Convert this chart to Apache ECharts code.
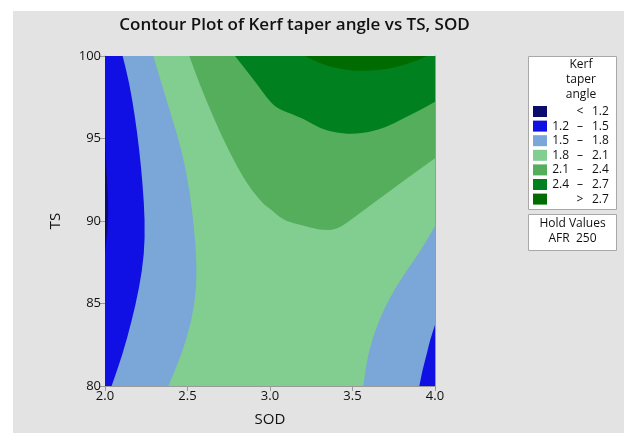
<!DOCTYPE html>
<html><head><meta charset="utf-8">
<script src="https://cdn.jsdelivr.net/npm/echarts@6/dist/echarts.min.js"></script>
<style>html,body{margin:0;padding:0;background:#fff;width:624px;height:433px;overflow:hidden}
#c{position:absolute;left:13px;top:11px;width:611px;height:422px}</style>
</head><body><div id="c"></div>
<script>
// Contour lines, points as [SOD, TS]
const contour18Left = [[2.293,100],[2.343,98.34],[2.404,96.31],[2.465,94.29],[2.505,92.26],[2.525,90.84],[2.541,89.42],[2.552,88.0],[2.556,85.98],[2.525,83.95],[2.465,81.93],[2.384,80]];
const contour15Left = [[2.107,100],[2.148,98.34],[2.182,96.31],[2.208,94.29],[2.228,92.26],[2.242,90.0],[2.238,88.0],[2.208,85.97],[2.162,83.95],[2.107,81.93],[2.04,80]];
const contour12Left = [[2.0,95.5],[2.005,94],[2.012,92.5],[2.02,91],[2.018,90],[2.01,89],[2.0,88]];
const contour18Right = [[4.0,89.7],[3.96,89.0],[3.899,88.0],[3.758,85.98],[3.657,83.95],[3.592,81.93],[3.566,80]];
const contour15Right = [[4.0,83.7],[3.97,82.8],[3.95,81.93],[3.925,81],[3.905,80]];
const contour21 = [[2.511,100],[2.572,98.34],[2.656,96.31],[2.747,94.29],[2.859,92.26],[2.96,91.0],[3.0,90.75],[3.081,90.03],[3.2,89.73],[3.3,89.45],[3.4,89.45],[3.485,90.02],[3.606,90.94],[3.806,92.4],[4.0,93.8]];
const contour24 = [[2.788,100],[2.919,98.34],[3.0,97.2],[3.06,96.75],[3.202,96.21],[3.303,95.6],[3.404,95.34],[3.505,95.26],[3.606,95.4],[3.707,95.7],[3.808,96.21],[3.909,96.72],[4.0,97.22]];
const contour27 = [[3.212,100],[3.303,99.55],[3.404,99.25],[3.505,99.1],[3.606,99.1],[3.707,99.19],[3.808,99.45],[3.909,99.8],[3.95,100]];

const sodRange = [2.0, 4.0];
const tsRange = [80, 100];
const sodTicks = [2.0, 2.5, 3.0, 3.5, 4.0];
const tsTicks = [80, 85, 90, 95, 100];

const legendLow  = ['', '1.2', '1.5', '1.8', '2.1', '2.4', ''];
const legendMid  = ['<', '–', '–', '–', '–', '–', '>'];
const legendHigh = ['1.2', '1.5', '1.8', '2.1', '2.4', '2.7', '2.7'];
const levelColors = ['#0c0c6c', '#1010e4', '#7ba6d8', '#82cd90', '#55ae5b', '#00801e', '#006b00'];

const X0 = sodRange[0], X1 = sodRange[1], Y0 = tsRange[0], Y1 = tsRange[1];
// each region: a contour line (smoothed when drawn) plus straight closing points on the plot edge
const regions = [
  { line: [[X0,Y0],[X1,Y0]], close: [[X1,Y1],[X0,Y1]], color: levelColors[3] },
  { line: contour21, close: [[X1,Y1]], color: levelColors[4] },
  { line: contour24, close: [[X1,Y1]], color: levelColors[5] },
  { line: contour27, close: [], color: levelColors[6] },
  { line: contour18Left, close: [[X0,Y0],[X0,Y1]], color: levelColors[2] },
  { line: contour15Left, close: [[X0,Y0],[X0,Y1]], color: levelColors[1] },
  { line: contour12Left, close: [], color: levelColors[0] },
  { line: contour18Right, close: [[X1,Y0]], color: levelColors[2] },
  { line: contour15Right, close: [[X1,Y0]], color: levelColors[1] }
];

function buildPath(line, close, api) {
  const p = line.map(q => api.coord(q));
  const c = close.map(q => api.coord(q));
  let d = 'M' + p[0][0] + ' ' + p[0][1];
  if (p.length > 2) {
    for (let i = 1; i < p.length - 1; i++) {
      const mx = (p[i][0] + p[i + 1][0]) / 2, my = (p[i][1] + p[i + 1][1]) / 2;
      if (i === 1) {
        const m0x = (p[0][0] + p[1][0]) / 2, m0y = (p[0][1] + p[1][1]) / 2;
        d += 'L' + m0x + ' ' + m0y;
      }
      d += 'Q' + p[i][0] + ' ' + p[i][1] + ' ' + mx + ' ' + my;
    }
  }
  d += 'L' + p[p.length - 1][0] + ' ' + p[p.length - 1][1];
  c.forEach(q => { d += 'L' + q[0] + ' ' + q[1]; });
  return d + 'Z';
}

const series = regions.map(r => ({
  type: 'custom',
  coordinateSystem: 'cartesian2d',
  clip: true,
  silent: true,
  animation: false,
  data: r.line.concat(r.close),
  renderItem: function (params, api) {
    if (params.dataIndex !== 0) return null;
    return { type: 'path', shape: { pathData: buildPath(r.line, r.close, api) }, style: { fill: r.color, stroke: null } };
  }
}));

const FONT = 'Open Sans';
const graphics = [
  { type: 'text', x: 281.5, y: 14, style: { text: 'Contour Plot of Kerf taper angle vs TS, SOD', font: '600 17px "Open Sans"', fill: '#111', textAlign: 'center', textVerticalAlign: 'middle' } },
  { type: 'rect', shape: { x: 515.5, y: 45.5, width: 88, height: 153 }, style: { fill: '#fff', stroke: '#a8a8a8', lineWidth: 1 } },
  { type: 'rect', shape: { x: 515.5, y: 203.5, width: 88, height: 36 }, style: { fill: '#fff', stroke: '#a8a8a8', lineWidth: 1 } },
  { type: 'text', x: 568, y: 54, style: { text: 'Kerf', font: '12px "Open Sans"', fill: '#111', textAlign: 'center', textVerticalAlign: 'middle' } },
  { type: 'text', x: 568, y: 69, style: { text: 'taper', font: '12px "Open Sans"', fill: '#111', textAlign: 'center', textVerticalAlign: 'middle' } },
  { type: 'text', x: 568, y: 84, style: { text: 'angle', font: '12px "Open Sans"', fill: '#111', textAlign: 'center', textVerticalAlign: 'middle' } },
  { type: 'text', x: 559.5, y: 213, style: { text: 'Hold Values', font: '12px "Open Sans"', fill: '#111', textAlign: 'center', textVerticalAlign: 'middle' } },
  { type: 'text', x: 559.5, y: 228, style: { text: 'AFR  250', font: '12px "Open Sans"', fill: '#111', textAlign: 'center', textVerticalAlign: 'middle' } }
];
levelColors.forEach((c, i) => {
  const cy = 100.5 + i * 14.6;
  graphics.push({ type: 'rect', shape: { x: 520, y: cy - 5.5, width: 14, height: 11 }, style: { fill: c } });
  if (legendLow[i]) graphics.push({ type: 'text', x: 556, y: cy, style: { text: legendLow[i], font: '12px "Open Sans"', fill: '#111', textAlign: 'right', textVerticalAlign: 'middle' } });
  graphics.push({ type: 'text', x: 567, y: cy, style: { text: legendMid[i], font: '12px "Open Sans"', fill: '#111', textAlign: 'center', textVerticalAlign: 'middle' } });
  graphics.push({ type: 'text', x: 579, y: cy, style: { text: legendHigh[i], font: '12px "Open Sans"', fill: '#111', textAlign: 'left', textVerticalAlign: 'middle' } });
});

const axisLineStyle = { color: '#9a9a9a', width: 1 };
const chart = echarts.init(document.getElementById('c'), null, { renderer: 'canvas' });
chart.setOption({
  backgroundColor: '#e3e3e3',
  animation: false,
  grid: { left: 92, top: 45, width: 330, height: 330, show: false },
  xAxis: [{
    type: 'value', min: X0, max: X1, interval: 0.5, position: 'bottom',
    name: 'SOD', nameLocation: 'middle', nameGap: 26,
    nameTextStyle: { fontFamily: FONT, fontSize: 15, color: '#111' },
    axisLine: { show: true, lineStyle: axisLineStyle },
    axisTick: { show: true, length: 5, lineStyle: axisLineStyle },
    axisLabel: { fontFamily: FONT, fontSize: 13, color: '#111', margin: 4, formatter: v => v.toFixed(1) },
    splitLine: { show: false }
  }, {
    type: 'value', min: X0, max: X1, position: 'top',
    axisLine: { show: true, onZero: false, lineStyle: axisLineStyle },
    axisTick: { show: false }, axisLabel: { show: false }, splitLine: { show: false }
  }],
  yAxis: [{
    type: 'value', min: Y0, max: Y1, interval: 5, position: 'left',
    name: 'TS', nameLocation: 'middle', nameGap: 42,
    nameTextStyle: { fontFamily: FONT, fontSize: 15, color: '#111' },
    axisLine: { show: true, lineStyle: axisLineStyle },
    axisTick: { show: true, length: 5, lineStyle: axisLineStyle },
    axisLabel: { fontFamily: FONT, fontSize: 13, color: '#111', margin: 4 },
    splitLine: { show: false }
  }, {
    type: 'value', min: Y0, max: Y1, position: 'right',
    axisLine: { show: true, onZero: false, lineStyle: axisLineStyle },
    axisTick: { show: false }, axisLabel: { show: false }, splitLine: { show: false }
  }],
  series: series,
  graphic: graphics
});
</script></body></html>
